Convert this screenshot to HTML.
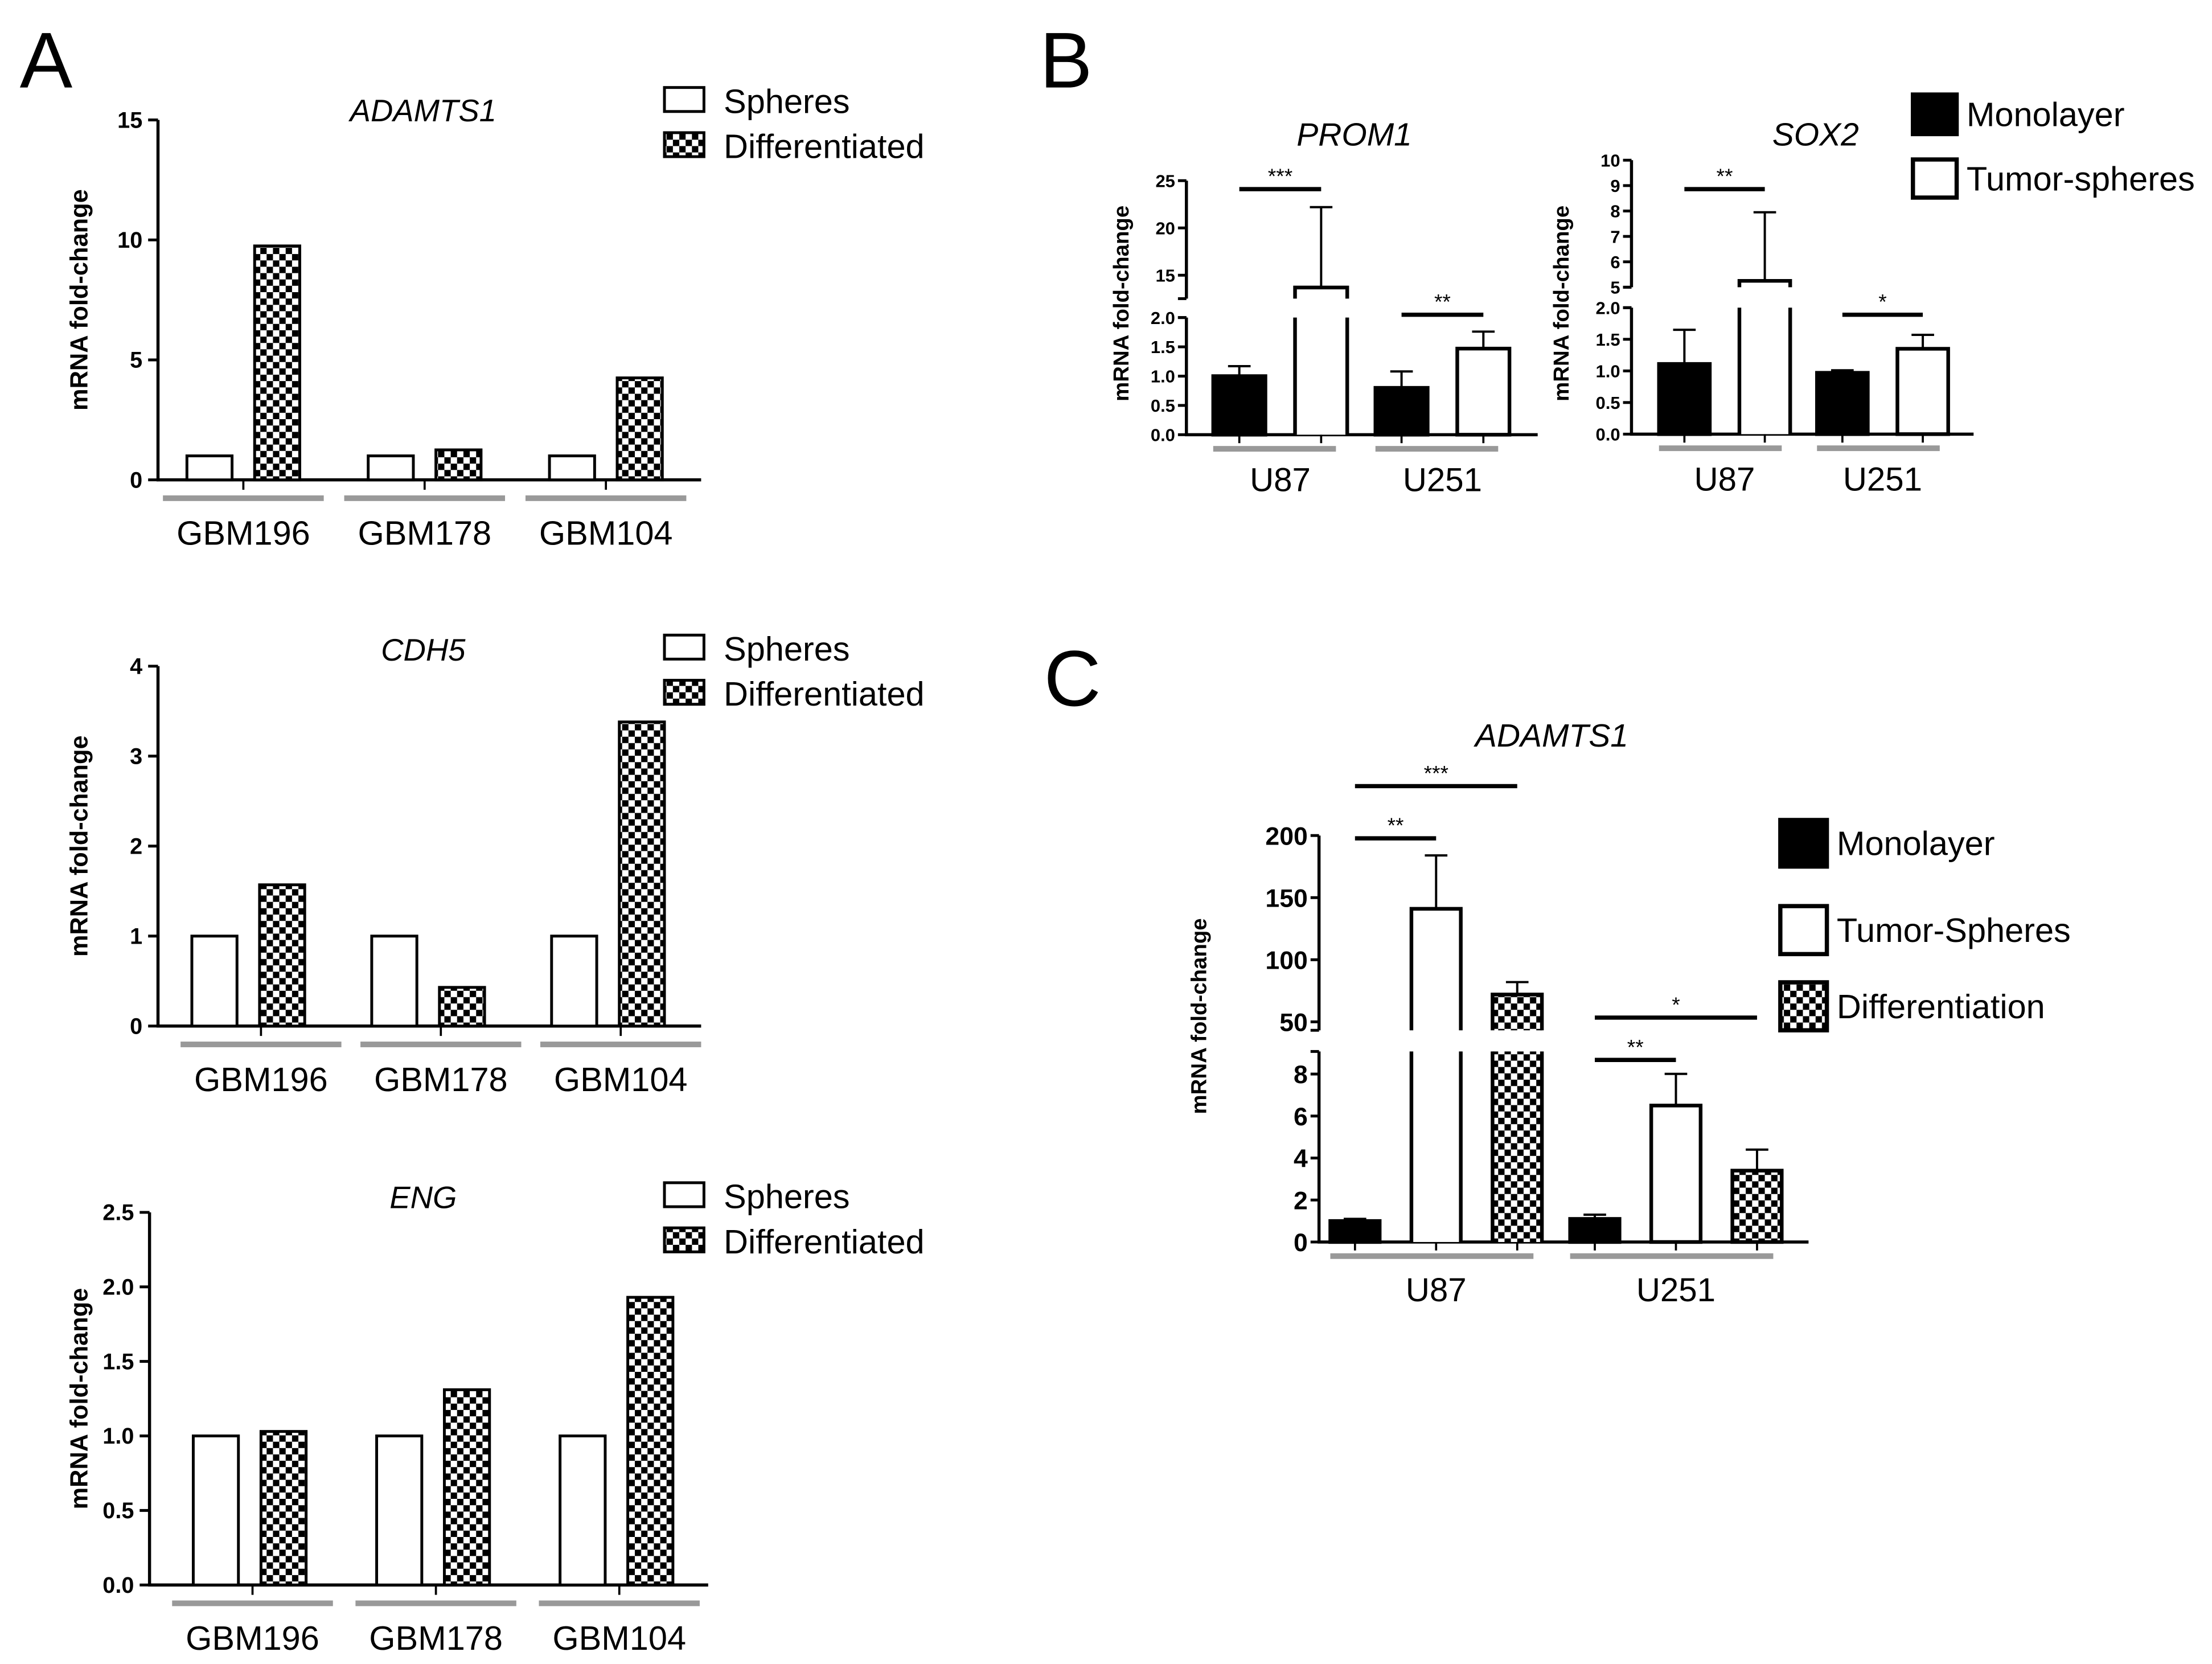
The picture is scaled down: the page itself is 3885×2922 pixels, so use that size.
<!DOCTYPE html>
<html><head><meta charset="utf-8">
<style>
html,body{margin:0;padding:0;background:#fff;}
svg{display:block;font-family:"Liberation Sans",Arial,sans-serif;}
</style></head>
<body>
<svg id="fig" width="3885" height="2922" viewBox="0 0 1568 1179" preserveAspectRatio="none" xmlns="http://www.w3.org/2000/svg">
<defs>
<pattern id="chk" width="9" height="9" patternUnits="userSpaceOnUse">
<rect width="9" height="9" fill="#fff"/>
<rect width="4.5" height="4.5" fill="#000"/>
<rect x="4.5" y="4.5" width="4.5" height="4.5" fill="#000"/>
</pattern>
</defs>
<text x="14" y="62" font-size="56">A</text>
<text x="737" y="62" font-size="56">B</text>
<text x="740" y="500" font-size="56">C</text>
</svg>
<script>
// ---- Panel A data ----
const aCategories = ["GBM196", "GBM178", "GBM104"];
const adamtsSpheres = [1, 1, 1];
const adamtsDiff = [9.75, 1.25, 4.25];
const adamtsTicks = [0, 5, 10, 15];
const adamtsTickLabels = ["0", "5", "10", "15"];
const cdh5Spheres = [1, 1, 1];
const cdh5Diff = [1.57, 0.43, 3.38];
const cdh5Ticks = [0, 1, 2, 3, 4];
const cdh5TickLabels = ["0", "1", "2", "3", "4"];
const engSpheres = [1, 1, 1];
const engDiff = [1.03, 1.31, 1.93];
const engTicks = [0, 0.5, 1.0, 1.5, 2.0, 2.5];
const engTickLabels = ["0.0", "0.5", "1.0", "1.5", "2.0", "2.5"];
// ---- Panel B data ----
const bCategories = ["U87", "U251"];
const prom1Mono = [1.0, 0.8];
const prom1MonoErr = [1.17, 1.08];
const prom1Tumor = [13.7, 1.47];
const prom1TumorErr = [22.2, 1.76];
const prom1LowTicks = [0, 0.5, 1.0, 1.5, 2.0];
const prom1LowLabels = ["0.0", "0.5", "1.0", "1.5", "2.0"];
const prom1UpTicks = [15, 20, 25];
const prom1UpLabels = ["15", "20", "25"];
const sox2Mono = [1.11, 0.97];
const sox2MonoErr = [1.65, 1.01];
const sox2Tumor = [5.25, 1.35];
const sox2TumorErr = [7.95, 1.57];
const sox2LowTicks = [0, 0.5, 1.0, 1.5, 2.0];
const sox2LowLabels = ["0.0", "0.5", "1.0", "1.5", "2.0"];
const sox2UpTicks = [5, 6, 7, 8, 9, 10];
const sox2UpLabels = ["5", "6", "7", "8", "9", "10"];
// ---- Panel C data ----
const cCategories = ["U87", "U251"];
const cMono = [1.0, 1.1];
const cMonoErr = [1.1, 1.3];
const cTumor = [141, 6.5];
const cTumorErr = [184, 8.1];
const cDiff = [72, 3.4];
const cDiffErr = [82, 4.4];
const cLowTicks = [0, 2, 4, 6, 8];
const cLowLabels = ["0", "2", "4", "6", "8"];
const cUpTicks = [50, 100, 150, 200];
const cUpLabels = ["50", "100", "150", "200"];

const svg = document.getElementById('fig');
const NS = 'http://www.w3.org/2000/svg';
function mk(tag, attrs, parent) {
  const e = document.createElementNS(NS, tag);
  for (const k in attrs) e.setAttribute(k, attrs[k]);
  (parent || svg).appendChild(e);
  return e;
}
function txt(x, y, s, size, extra) {
  const e = mk('text', Object.assign({x: x, y: y, 'font-size': size}, extra || {}));
  e.textContent = s;
  return e;
}

// ---------- Panel A ----------
function drawA(L, title, spheres, diff, ticks, tickLabels) {
  const g = mk('g', {});
  
  
  const yv = v => L.y0 - (v / L.max) * (L.y0 - L.yTop);
  const ax = mk('line', {x1: L.ax, y1: L.yTop, x2: L.ax, y2: L.y0 + 1, stroke: '#000', 'stroke-width': 2.2}, g);
  
  
  const xa = mk('line', {x1: L.ax - 1, y1: L.y0, x2: L.xEnd, y2: L.y0, stroke: '#000', 'stroke-width': 2.2}, g);
  
  
  ticks.forEach((t, i) => {
    mk('line', {x1: L.ax - 7, y1: yv(t), x2: L.ax, y2: yv(t), stroke: '#000', 'stroke-width': 2}, g);
    const tl = txt(L.ax - 11, yv(t) + 5.5, tickLabels[i], 16, {'text-anchor': 'end', 'font-weight': 'bold'});
    
    
    g.appendChild(tl);
  });
  const yl = txt(0, 0, 'mRNA fold-change', 17.5, {'font-weight': 'bold', 'text-anchor': 'middle', transform: 'translate(' + L.yLabX + ',' + ((L.y0 + L.yTop) / 2) + ') rotate(-90)'});
  
  
  g.appendChild(yl);
  const tt = txt(300, L.titleY, title, 22, {'font-style': 'italic', 'text-anchor': 'middle'});
  
  
  g.appendChild(tt);
  aCategories.forEach((c, i) => {
    const cx = L.c0 + i * L.pitch;
    const b1 = mk('rect', {x: cx - 40, y: yv(spheres[i]), width: 32, height: L.y0 - yv(spheres[i]), fill: '#fff', stroke: '#000', 'stroke-width': 2}, g);
    
    
    const b2 = mk('rect', {x: cx + 8, y: yv(diff[i]), width: 32, height: L.y0 - yv(diff[i]), fill: 'url(#chk)', stroke: '#000', 'stroke-width': 2}, g);
    
    
    const gc = cx + L.gOff;
    mk('line', {x1: gc, y1: L.y0, x2: gc, y2: L.y0 + 7, stroke: '#000', 'stroke-width': 1.5}, g);
    mk('rect', {x: gc - 57, y: L.y0 + 11, width: 114, height: 4, fill: '#999'}, g);
    const cl = txt(gc, L.y0 + 46, c, 24, {'text-anchor': 'middle'});
    
    
    g.appendChild(cl);
  });
  const lg = mk('g', {}, g);
  
  
  mk('rect', {x: 471, y: L.legY - 9, width: 28, height: 17, fill: '#fff', stroke: '#000', 'stroke-width': 2}, lg);
  txt(513, L.legY + 9, 'Spheres', 24, {});
  lg.appendChild(svg.lastChild);
  mk('rect', {x: 471, y: L.legY + 23, width: 28, height: 17, fill: 'url(#chk)', stroke: '#000', 'stroke-width': 2}, lg);
  txt(513, L.legY + 41, 'Differentiated', 24, {});
  lg.appendChild(svg.lastChild);
}
drawA({ax: 112, y0: 340, yTop: 85, max: 15, xEnd: 497, c0: 172.5, pitch: 128.5, gOff: 0, titleY: 86, legY: 71, yLabX: 62}, 'ADAMTS1', adamtsSpheres, adamtsDiff, adamtsTicks, adamtsTickLabels);
drawA({ax: 112, y0: 727, yTop: 472, max: 4, xEnd: 497, c0: 176, pitch: 127.5, gOff: 9, titleY: 468, legY: 459, yLabX: 62}, 'CDH5', cdh5Spheres, cdh5Diff, cdh5Ticks, cdh5TickLabels);
drawA({ax: 106, y0: 1123, yTop: 859, max: 2.5, xEnd: 502, c0: 177, pitch: 130, gOff: 2, titleY: 856, legY: 847, yLabX: 62}, 'ENG', engSpheres, engDiff, engTicks, engTickLabels);

// ---------- Broken-axis charts ----------
function drawBroken(L, name, series, cats, lowTicks, lowLabels, upTicks, upLabels, sigs) {
  const g = mk('g', {});
  
  
  const yv = v => v <= L.lowMax ? L.y0 - (v / L.lowMax) * (L.y0 - L.lowTopY)
                                : L.upAy - (v - L.upA) * (L.upAy - L.upBy) / (L.upB - L.upA);
  mk('line', {x1: L.ax, y1: L.lowAxisTop, x2: L.ax, y2: L.y0 + 1, stroke: '#000', 'stroke-width': 2.2}, g);
  mk('line', {x1: L.ax, y1: L.upAxisTop, x2: L.ax, y2: L.upAxisBot, stroke: '#000', 'stroke-width': 2.2}, g);
  mk('line', {x1: L.ax - 6, y1: L.upAxisBot, x2: L.ax, y2: L.upAxisBot, stroke: '#000', 'stroke-width': 2}, g);
  mk('line', {x1: L.ax - 6, y1: L.lowAxisTop, x2: L.ax, y2: L.lowAxisTop, stroke: '#000', 'stroke-width': 2}, g);
  mk('line', {x1: L.ax - 1, y1: L.y0, x2: L.xEnd, y2: L.y0, stroke: '#000', 'stroke-width': 2.2}, g);
  const tickSet = (ticks, labels) => ticks.forEach((t, i) => {
    mk('line', {x1: L.ax - 6, y1: yv(t), x2: L.ax, y2: yv(t), stroke: '#000', 'stroke-width': 2}, g);
    const tl = txt(L.ax - 8, yv(t) + L.tickFs * 0.36, labels[i], L.tickFs, {'text-anchor': 'end', 'font-weight': 'bold'});
    
    
    g.appendChild(tl);
  });
  tickSet(lowTicks, lowLabels);
  tickSet(upTicks, upLabels);
  const yl = txt(0, 0, 'mRNA fold-change', 15.5, {'font-weight': 'bold', 'text-anchor': 'middle', transform: 'translate(' + L.yLabX + ',' + L.yLabY + ') rotate(-90)'});
  
  
  g.appendChild(yl);
  const tt = txt(L.titleX, L.titleY, L.title, L.titleFs, {'font-style': 'italic', 'text-anchor': 'middle'});
  
  
  g.appendChild(tt);
  const centers = [];
  cats.forEach((c, j) => {
    series.forEach((s, i) => {
      const x0 = L.x0 + j * L.gp + i * L.bp;
      const xc = x0 + L.bw / 2;
      centers.push(xc);
      const v = s.vals[j];
      if (v <= L.lowMax) {
        const b = mk('rect', {x: x0, y: yv(v), width: L.bw, height: L.y0 - yv(v), fill: s.fill, stroke: '#000', 'stroke-width': 2.6}, g);
        
        
      } else {
        const b = mk('rect', {x: x0, y: L.lowAxisTop, width: L.bw, height: L.y0 - L.lowAxisTop, fill: s.fill, stroke: 'none'}, g);
        
        
        mk('path', {d: 'M' + x0 + ' ' + L.y0 + 'V' + L.lowAxisTop + 'M' + (x0 + L.bw) + ' ' + L.y0 + 'V' + L.lowAxisTop, stroke: '#000', 'stroke-width': 2.6, fill: 'none'}, g);
        const u = mk('path', {d: 'M' + x0 + ' ' + L.upAxisBot + 'V' + yv(v) + 'H' + (x0 + L.bw) + 'V' + L.upAxisBot, stroke: '#000', 'stroke-width': 2.6, fill: s.fill === '#fff' ? 'none' : s.fill}, g);
        
        
      }
      const e = s.errs[j];
      const eb = mk('path', {d: 'M' + xc + ' ' + yv(v) + 'V' + yv(e) + 'M' + (xc - 8) + ' ' + yv(e) + 'H' + (xc + 8), stroke: '#000', 'stroke-width': 1.6, fill: 'none'}, g);
      
      
      mk('line', {x1: xc, y1: L.y0, x2: xc, y2: L.y0 + 6, stroke: '#000', 'stroke-width': 1.5}, g);
    });
    const gs = L.x0 + j * L.gp;
    const ge = gs + (series.length - 1) * L.bp + L.bw;
    mk('rect', {x: gs, y: L.y0 + 8, width: ge - gs + L.gExtra, height: 4, fill: '#999'}, g);
    const cl = txt((gs + ge) / 2, L.y0 + L.labOff, c, 23.5, {'text-anchor': 'middle'});
    
    
    g.appendChild(cl);
  });
  sigs.forEach(s => {
    const a = centers[s[0]], b = centers[s[1]];
    const l = mk('line', {x1: a, y1: s[2], x2: b, y2: s[2], stroke: '#000', 'stroke-width': 3}, g);
    
    
    const st = txt((a + b) / 2, s[2] - 4, s[3], 15, {'text-anchor': 'middle'});
    
    
    g.appendChild(st);
  });
}

drawBroken({ax: 841, xEnd: 1090, y0: 308, lowMax: 2, lowTopY: 225, lowAxisTop: 225, upA: 15, upAy: 195, upB: 25, upBy: 128, upAxisTop: 128, upAxisBot: 211.6,
  x0: 860, gp: 115, bp: 58, bw: 37, gExtra: -8, labOff: 40, tickFs: 12.5, yLabX: 800, yLabY: 215, title: 'PROM1', titleX: 960, titleY: 103, titleFs: 23},
  'prom1',
  [{key: 'monolayer', vals: prom1Mono, errs: prom1MonoErr, fill: '#000'}, {key: 'tumor-spheres', vals: prom1Tumor, errs: prom1TumorErr, fill: '#fff'}],
  bCategories, prom1LowTicks, prom1LowLabels, prom1UpTicks, prom1UpLabels,
  [[0, 1, 134, '***'], [2, 3, 223, '**']]);

drawBroken({ax: 1156.5, xEnd: 1399, y0: 307.6, lowMax: 2, lowTopY: 218, lowAxisTop: 218, upA: 5, upAy: 203.5, upB: 10, upBy: 113.5, upAxisTop: 113.5, upAxisBot: 203.5,
  x0: 1176, gp: 112, bp: 57, bw: 36, gExtra: -6, labOff: 40, tickFs: 12.5, yLabX: 1112, yLabY: 215, title: 'SOX2', titleX: 1287, titleY: 103, titleFs: 23},
  'sox2',
  [{key: 'monolayer', vals: sox2Mono, errs: sox2MonoErr, fill: '#000'}, {key: 'tumor-spheres', vals: sox2Tumor, errs: sox2TumorErr, fill: '#fff'}],
  bCategories, sox2LowTicks, sox2LowLabels, sox2UpTicks, sox2UpLabels,
  [[0, 1, 134, '**'], [2, 3, 223, '*']]);

drawBroken({ax: 935, xEnd: 1282, y0: 880, lowMax: 8, lowTopY: 761, lowAxisTop: 745, upA: 50, upAy: 724, upB: 200, upBy: 592, upAxisTop: 592, upAxisBot: 730,
  x0: 943, gp: 170, bp: 57.5, bw: 35, gExtra: -6, labOff: 42, tickFs: 18, yLabX: 855, yLabY: 720, title: 'ADAMTS1', titleX: 1100, titleY: 529, titleFs: 23},
  'adamts1-c',
  [{key: 'monolayer', vals: cMono, errs: cMonoErr, fill: '#000'}, {key: 'tumor-spheres', vals: cTumor, errs: cTumorErr, fill: '#fff'}, {key: 'differentiation', vals: cDiff, errs: cDiffErr, fill: 'url(#chk)'}],
  cCategories, cLowTicks, cLowLabels, cUpTicks, cUpLabels,
  [[0, 2, 557, '***'], [0, 1, 594, '**'], [3, 5, 721, '*'], [3, 4, 751, '**']]);

// ---------- Legends B & C ----------
function legendEntry(x, y, w, h, fill, label, fs, name) {
  const g = mk('g', {});
  
  
  mk('rect', {x: x, y: y, width: w, height: h, fill: fill, stroke: '#000', 'stroke-width': 3}, g);
  const t = txt(x + w + 7, y + h / 2 + fs * 0.35, label, fs, {});
  g.appendChild(t);
}
legendEntry(1356, 67, 31, 28, '#000', 'Monolayer', 24, 'legend-entry-monolayer');
legendEntry(1356, 113, 31, 27, '#fff', 'Tumor-spheres', 24, 'legend-entry-tumor-spheres');
legendEntry(1262, 581, 33, 33, '#000', 'Monolayer', 24, 'legend-entry-monolayer-c');
legendEntry(1262, 642, 33, 34, '#fff', 'Tumor-Spheres', 24, 'legend-entry-tumor-spheres-c');
legendEntry(1262, 696, 33, 34, 'url(#chk)', 'Differentiation', 24, 'legend-entry-differentiation-c');
</script>
</body></html>
